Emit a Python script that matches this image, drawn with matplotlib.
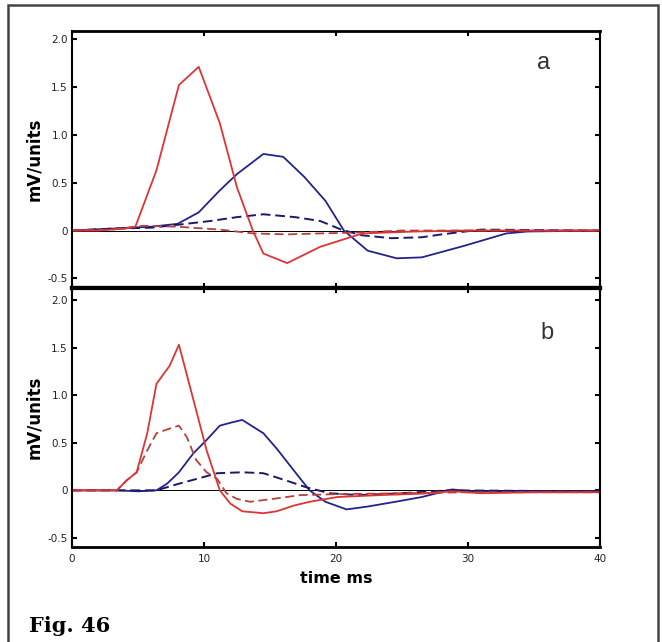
import matplotlib.pyplot as plt
from matplotlib.patches import Rectangle

# panel a
red_a_t = [0, 2, 4, 4.8, 6.4, 8.1, 9.6, 11.2, 12.5, 13.7, 14.5, 16.3, 18.8, 22, 26, 30, 35, 40]
red_a_v = [0, 0, 0.02, 0.04, 0.63, 1.52, 1.71, 1.12, 0.45, 0.0, -0.24, -0.34, -0.17, -0.03, -0.01, 0, 0, 0]
red_a_dash_t = [0, 3, 5.4, 8, 11.2, 13.7, 16.3, 18.8, 21.8, 25, 40]
red_a_dash_v = [0, 0.01, 0.05, 0.04, 0.01, -0.03, -0.04, -0.03, -0.02, 0, 0]
blue_a_t = [0, 3, 6, 8, 9.6, 11.2, 12.5, 14.5, 16, 17.6, 19.2, 20.6, 22.4, 24.6, 26.5, 29.7, 32.9, 34.5, 40]
blue_a_v = [0, 0.02, 0.04, 0.07, 0.19, 0.42, 0.59, 0.8, 0.77, 0.56, 0.31, 0.0, -0.21, -0.29, -0.28, -0.16, -0.03, -0.01, 0]
blue_a_dash_t = [0, 3, 6, 8, 10.5, 12.5, 14.5, 16.9, 18.8, 20.4, 22, 24.2, 26.5, 28, 31, 40]
blue_a_dash_v = [0, 0.02, 0.03, 0.06, 0.1, 0.14, 0.17, 0.14, 0.1, 0.01, -0.05, -0.08, -0.07, -0.04, 0.01, 0]

# panel b
red_b_t = [0, 3.4, 4.1, 4.9, 5.7, 6.4, 7.4, 8.1, 9.2, 10.2, 11.2, 12, 12.9, 14.5, 15.5, 16.8, 18,
           20.1, 23.3, 26.5, 28.8, 31, 35, 40]
red_b_v = [0, 0, 0.1, 0.19, 0.6, 1.12, 1.31, 1.53, 0.95, 0.42, 0.0, -0.14, -0.22, -0.24, -0.22, -0.16, -0.12,
           -0.07, -0.05, -0.035, -0.01, -0.03, -0.02, -0.02]
red_b_dash_t = [0, 3.4, 4.1, 4.9, 5.7, 6.4, 7.2, 8.1, 8.7, 9.4, 10.2, 11, 11.7, 12.5, 13.5, 15.2, 17.3, 20, 25, 30, 40]
red_b_dash_v = [0, 0, 0.1, 0.19, 0.42, 0.6, 0.64, 0.68, 0.56, 0.32, 0.19, 0.12, -0.03, -0.09, -0.12, -0.09,
                -0.05, -0.04, -0.03, -0.02, -0.02]
blue_b_t = [0, 3.5, 5, 6.4, 7.2, 8.1, 9.2, 10.2, 11.2, 12, 12.9, 14.5, 15.5, 16.8, 18, 19.2, 20.8, 22.4,
            24.5, 26.5, 28.8, 30.2, 40]
blue_b_v = [0, 0, -0.01, 0, 0.07, 0.19, 0.39, 0.53, 0.68, 0.71, 0.74, 0.6, 0.44, 0.21, 0, -0.12, -0.2, -0.17,
            -0.12, -0.07, 0.01, -0.01, -0.01]
blue_b_dash_t = [0, 3.5, 6.4, 8.1, 9.7, 11, 12.9, 14.5, 16.3, 17.8, 19.5, 21.7, 25, 28.4, 40]
blue_b_dash_v = [0, 0, 0, 0.07, 0.13, 0.18, 0.19, 0.18, 0.1, 0.03, -0.03, -0.05, -0.03, 0, -0.01]

yticks = [-0.5, 0, 0.5, 1.0, 1.5, 2.0]
ytick_labels = ['-0.5', '0', '0.5', '1.0', '1.5', '2.0']
xticks = [0, 10, 20, 30, 40]

RED = '#dd3535'
RED_D = '#b8403a'
BLUE = '#23238f'
BLUE_D = '#1a1a66'

fig = plt.figure(figsize=(6.62, 6.42), dpi=100)
ax1 = fig.add_axes([72/662, 1-288/642, 528/662, 257/642])
ax2 = fig.add_axes([72/662, 1-547/642, 528/662, 259/642])

dash = (0, (5, 2.5))

ax1.axhline(0, color='black', lw=0.7, zorder=1)
ax1.plot(blue_a_t, blue_a_v, color=BLUE, lw=1.3)
ax1.plot(blue_a_dash_t, blue_a_dash_v, color=BLUE_D, lw=1.4, linestyle=dash)
ax1.plot(red_a_dash_t, red_a_dash_v, color=RED_D, lw=1.3, linestyle=dash)
ax1.plot(red_a_t, red_a_v, color=RED, lw=1.3)
ax1.set_ylim(-0.6, 2.084)
ax1.text(35.7, 1.75, 'a', fontsize=17, family='Liberation Sans', ha='center', va='center', color='#333')

ax2.axhline(0, color='black', lw=0.7, zorder=1)
ax2.plot(blue_b_t, blue_b_v, color=BLUE, lw=1.3)
ax2.plot(blue_b_dash_t, blue_b_dash_v, color=BLUE_D, lw=1.4, linestyle=dash)
ax2.plot(red_b_dash_t, red_b_dash_v, color=RED_D, lw=1.3, linestyle=dash)
ax2.plot(red_b_t, red_b_v, color=RED, lw=1.3)
ax2.set_ylim(-0.595, 2.126)
ax2.text(36, 1.65, 'b', fontsize=17, family='Liberation Sans', ha='center', va='center', color='#333')

for ax in (ax1, ax2):
    ax.set_xlim(0, 40)
    ax.set_xticks(xticks)
    ax.set_yticks(yticks)
    ax.set_yticklabels(ytick_labels)
    ax.tick_params(direction='in', top=True, right=True, length=3.5, width=1.5,
                   labelsize=7.5, pad=3, labelcolor='#222')
    ax.set_ylabel('mV/units', fontsize=12, fontweight='bold', labelpad=3)
    for s in ax.spines.values():
        s.set_linewidth(1.5)

ax1.tick_params(labelbottom=False)
ax1.spines['top'].set_linewidth(2)
ax1.spines['bottom'].set_linewidth(3)
ax2.spines['top'].set_linewidth(3)
ax2.spines['bottom'].set_linewidth(2)
ax2.tick_params(axis='x', pad=5)
ax2.set_xlabel('time ms', fontsize=11.5, fontweight='bold', labelpad=5)

fig.text(29/662, 1-632/642, 'Fig. 46', fontsize=15, fontweight='bold', family='DejaVu Serif',
         ha='left', va='baseline')

frame = Rectangle((8/662, -0.1), 650/662, 1.1 - 5/642, transform=fig.transFigure,
                  fill=False, edgecolor='#444', lw=1.8, clip_on=False)
fig.patches.append(frame)

fig.savefig('out.png', dpi=100)
